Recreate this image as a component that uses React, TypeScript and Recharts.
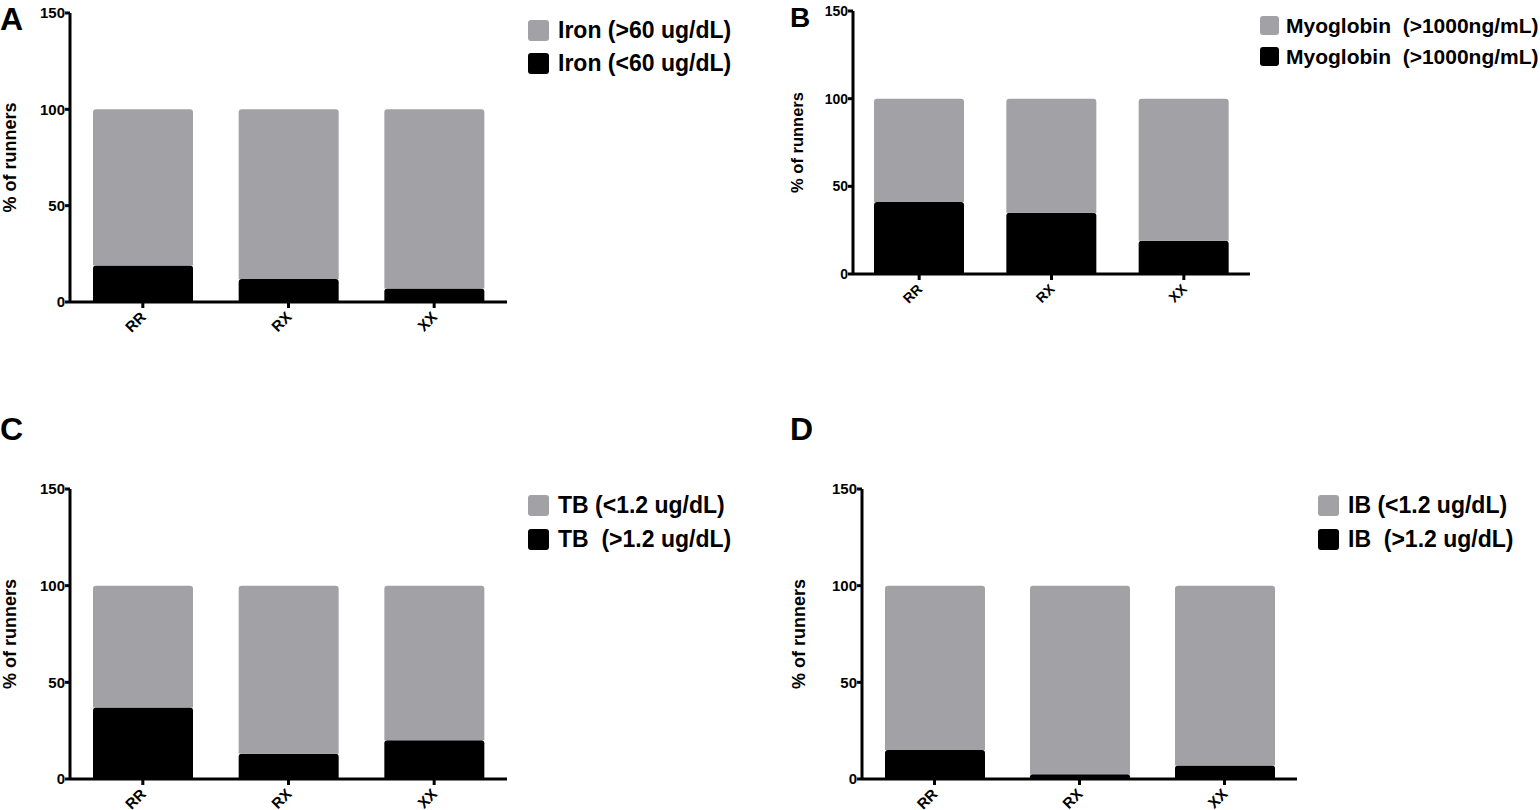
import React from 'react';
import { BarChart, Bar, XAxis, YAxis, Legend } from 'recharts';

const genotypes = ['RR', 'RX', 'XX'];
const yTicks = [0, 50, 100, 150];

// A - iron
const ironLow = [19, 12, 7];
const ironHigh = [81, 88, 93];
// B - myoglobin
const myoLow = [41, 35, 19];
const myoHigh = [59, 65, 81];
// C - total bilirubin
const tbLow = [37, 13, 20];
const tbHigh = [63, 87, 80];
// D - indirect bilirubin
const ibLow = [15, 2.5, 7];
const ibHigh = [85, 97.5, 93];

const GREY = '#a2a2a6';
const BLACK = '#000000';
const FONT = '"Liberation Sans", Arial, Helvetica, sans-serif';

type PanelProps = {
  letter: string;
  letterSize: number;
  letterX: number;
  letterY: number;
  left: number;
  top: number;
  width: number;
  height: number;
  plot: { l: number; t: number; r: number; b: number };
  low: number[];
  high: number[];
  lowName: string;
  highName: string;
  barSize: number;
  tickFont: number;
  labelFont: number;
  labelX: number;
  legend: { x: number; y: number; box: number; font: number; row: number; gap: number };
};

function RotTick(props: any) {
  const { x, y, payload, fontSize } = props;
  return (
    <g transform={`translate(${x},${y})`}>
      <text
        x={4}
        y={10}
        textAnchor="end"
        transform="rotate(-45 4 10)"
        fill="#000"
        fontSize={fontSize}
        fontWeight={700}
        fontFamily={FONT}
      >
        {payload.value}
      </text>
    </g>
  );
}

function Panel(p: PanelProps) {
  const rows = genotypes.map((g, i) => ({ g, low: p.low[i], high: p.high[i] }));
  const midY = (p.plot.t + p.plot.b) / 2;
  const lg = p.legend;

  // grey entry on top, black below, like the original key
  const renderLegend = (props: any) => {
    const items = [...(props.payload || [])].reverse();
    return (
      <div style={{ fontFamily: FONT }}>
        {items.map((it: any) => (
          <div
            key={it.value}
            style={{ display: 'flex', alignItems: 'center', height: lg.row }}
          >
            <span
              style={{
                display: 'inline-block',
                width: lg.box,
                height: lg.box,
                background: it.color,
                borderRadius: 3,
                marginRight: lg.gap,
              }}
            />
            <span
              style={{
                fontSize: lg.font,
                fontWeight: 700,
                color: '#000',
                whiteSpace: 'pre',
                lineHeight: 1,
              }}
            >
              {it.value}
            </span>
          </div>
        ))}
      </div>
    );
  };

  return (
    <div style={{ position: 'absolute', left: p.left, top: p.top, width: p.width, height: p.height }}>
      <BarChart
        width={p.width}
        height={p.height}
        data={rows}
        margin={{ top: p.plot.t, right: p.width - p.plot.r, left: 0, bottom: 0 }}
      >
        <XAxis
          dataKey="g"
          height={p.height - p.plot.b}
          interval={0}
          tickSize={6}
          tickMargin={0}
          axisLine={{ stroke: '#000', strokeWidth: 3 }}
          tickLine={{ stroke: '#000', strokeWidth: 3 }}
          tick={<RotTick fontSize={p.tickFont} />}
        />
        <YAxis
          domain={[0, 150]}
          ticks={yTicks}
          interval={0}
          width={p.plot.l}
          tickSize={5}
          tickMargin={0}
          axisLine={{ stroke: '#000', strokeWidth: 3 }}
          tickLine={{ stroke: '#000', strokeWidth: 3 }}
          tick={{ fill: '#000', fontSize: p.tickFont, fontWeight: 700, fontFamily: FONT }}
          label={{
            content: () => (
              <text
                x={p.labelX}
                y={midY}
                transform={`rotate(-90 ${p.labelX} ${midY})`}
                textAnchor="middle"
                fill="#000"
                fontSize={p.labelFont}
                fontWeight={700}
                fontFamily={FONT}
              >
                % of runners
              </text>
            ),
          }}
        />
        <Legend
          layout="vertical"
          align="center"
          verticalAlign="middle"
          content={renderLegend}
          wrapperStyle={{ left: lg.x, top: lg.y, width: 'auto', height: 'auto' }}
        />
        <Bar
          dataKey="low"
          name={p.lowName}
          stackId="s"
          fill={BLACK}
          barSize={p.barSize}
          radius={[3, 3, 0, 0]}
          isAnimationActive={false}
        />
        <Bar
          dataKey="high"
          name={p.highName}
          stackId="s"
          fill={GREY}
          barSize={p.barSize}
          radius={[3, 3, 0, 0]}
          isAnimationActive={false}
        />
      </BarChart>
      <div
        style={{
          position: 'absolute',
          left: p.letterX,
          top: p.letterY,
          fontFamily: FONT,
          fontWeight: 700,
          fontSize: p.letterSize,
          lineHeight: `${p.letterSize}px`,
          color: '#000',
        }}
      >
        {p.letter}
      </div>
    </div>
  );
}

export default function App() {
  return (
    <div
      style={{
        position: 'absolute',
        left: 0,
        top: 0,
        width: 1540,
        height: 810,
        background: '#fff',
        overflow: 'hidden',
      }}
    >
      <Panel
        letter="A"
        letterSize={32}
        letterX={0}
        letterY={3}
        left={0}
        top={0}
        width={770}
        height={400}
        plot={{ l: 70, t: 13, r: 507, b: 302 }}
        low={ironLow}
        high={ironHigh}
        lowName="Iron (<60 ug/dL)"
        highName="Iron (>60 ug/dL)"
        barSize={100}
        tickFont={15}
        labelFont={18}
        labelX={16}
        legend={{ x: 528, y: 14, box: 21, font: 23, row: 33, gap: 9 }}
      />
      <Panel
        letter="B"
        letterSize={28}
        letterX={10}
        letterY={4}
        left={780}
        top={0}
        width={760}
        height={400}
        plot={{ l: 73, t: 11, r: 470, b: 274 }}
        low={myoLow}
        high={myoHigh}
        lowName="Myoglobin  (>1000ng/mL)"
        highName="Myoglobin  (>1000ng/mL) "
        barSize={90}
        tickFont={14}
        labelFont={16.5}
        labelX={23}
        legend={{ x: 480, y: 10, box: 19, font: 21, row: 31, gap: 7 }}
      />
      <Panel
        letter="C"
        letterSize={32}
        letterX={0}
        letterY={13}
        left={0}
        top={400}
        width={770}
        height={410}
        plot={{ l: 70, t: 89, r: 507, b: 379 }}
        low={tbLow}
        high={tbHigh}
        lowName="TB  (>1.2 ug/dL)"
        highName="TB (<1.2 ug/dL)"
        barSize={100}
        tickFont={15}
        labelFont={18}
        labelX={16}
        legend={{ x: 528, y: 88, box: 21, font: 23, row: 34, gap: 9 }}
      />
      <Panel
        letter="D"
        letterSize={32}
        letterX={10}
        letterY={13}
        left={780}
        top={400}
        width={760}
        height={410}
        plot={{ l: 82, t: 89, r: 517, b: 379 }}
        low={ibLow}
        high={ibHigh}
        lowName="IB  (>1.2 ug/dL)"
        highName="IB (<1.2 ug/dL)"
        barSize={100}
        tickFont={15}
        labelFont={18}
        labelX={25}
        legend={{ x: 538, y: 88, box: 21, font: 23, row: 34, gap: 9 }}
      />
    </div>
  );
}
